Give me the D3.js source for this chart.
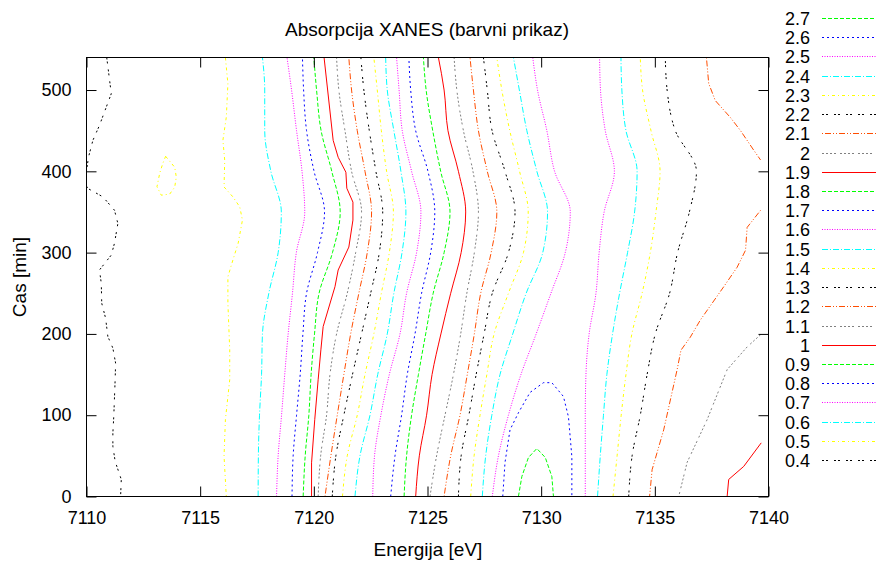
<!DOCTYPE html>
<html>
<head>
<meta charset="utf-8">
<script src="https://cdn.jsdelivr.net/npm/d3@7"></script>
<style>
  body { margin: 0; background: #fff; }
  svg text { font-family: "Liberation Sans", Arial, sans-serif; fill: #000; }
</style>
</head>
<body>
<div id="chart"></div>
<script>
// time rows (min) at which the vertical contours were read
const T = [0, 50, 100, 150, 200, 250, 300, 350, 400, 450, 500, 540];

// energy (eV) of each contour at the rows of T
const e06 = [7117.55, 7117.56, 7117.61, 7117.70, 7117.74, 7118.02, 7118.43, 7118.57, 7118.11, 7117.84, 7117.84, 7117.74];
const e07 = [7118.36, 7118.43, 7118.58, 7118.72, 7118.87, 7119.06, 7119.23, 7119.60, 7119.48, 7119.24, 7119.02, 7118.82];
const e08 = [7119.04, 7119.09, 7119.24, 7119.40, 7119.52, 7119.68, 7120.16, 7120.47, 7120.01, 7119.68, 7119.55, 7119.50];
const e09 = [7119.53, 7119.62, 7119.78, 7119.88, 7120.03, 7120.23, 7120.82, 7121.16, 7120.79, 7120.32, 7120.12, 7120.00];
const e11 = [7120.19, 7120.30, 7120.56, 7120.71, 7121.00, 7121.47, 7121.84, 7122.10, 7121.66, 7121.37, 7121.10, 7121.00];
const e12 = [7120.49, 7120.75, 7121.03, 7121.32, 7121.62, 7121.98, 7122.35, 7122.54, 7122.25, 7121.91, 7121.66, 7121.54];
const e13 = [7120.81, 7120.97, 7121.32, 7121.70, 7122.10, 7122.50, 7122.88, 7123.03, 7122.73, 7122.44, 7122.20, 7122.07];
const e14 = [7121.26, 7121.47, 7121.91, 7122.25, 7122.64, 7122.97, 7123.32, 7123.50, 7123.20, 7122.97, 7122.79, 7122.64];
const e15 = [7121.81, 7122.03, 7122.47, 7122.81, 7123.23, 7123.52, 7123.88, 7124.05, 7123.83, 7123.52, 7123.23, 7123.16];
const e16 = [7122.59, 7122.67, 7122.95, 7123.32, 7123.79, 7124.08, 7124.52, 7124.71, 7124.30, 7123.89, 7123.75, 7123.64];
const e17 = [7123.38, 7123.57, 7123.86, 7124.11, 7124.45, 7124.74, 7125.14, 7125.32, 7125.02, 7124.48, 7124.26, 7124.18];
const e18 = [7123.97, 7124.08, 7124.30, 7124.60, 7124.92, 7125.25, 7125.73, 7125.99, 7125.58, 7125.23, 7124.94, 7124.82];
const e19 = [7124.48, 7124.64, 7124.96, 7125.20, 7125.59, 7126.02, 7126.48, 7126.68, 7126.36, 7125.90, 7125.73, 7125.48];
const e20 = [7125.11, 7125.40, 7125.77, 7126.14, 7126.46, 7126.73, 7127.06, 7127.24, 7127.00, 7126.58, 7126.29, 7126.17];
const e21 = [7125.73, 7126.02, 7126.43, 7126.75, 7127.06, 7127.34, 7127.80, 7128.05, 7127.63, 7127.24, 7127.02, 7126.87];
const e22 = [7126.36, 7126.48, 7126.82, 7127.14, 7127.49, 7127.85, 7128.56, 7128.85, 7128.41, 7127.84, 7127.63, 7127.46];
const e23 = [7126.90, 7127.05, 7127.31, 7127.61, 7127.93, 7128.56, 7129.22, 7129.43, 7129.05, 7128.62, 7128.27, 7128.05];
const e24 = [7127.41, 7127.56, 7127.83, 7128.19, 7128.75, 7129.34, 7130.07, 7130.28, 7129.81, 7129.37, 7129.04, 7128.78];
const e25 = [7127.85, 7128.12, 7128.56, 7129.11, 7129.78, 7130.43, 7131.06, 7131.28, 7130.59, 7130.25, 7129.84, 7129.63];
// falling edge, right of the peak
const e25r = [7131.94, 7131.94, 7131.94, 7131.97, 7132.11, 7132.41, 7132.55, 7132.77, 7133.22, 7132.82, 7132.61, 7132.57];
const e24r = [7132.48, 7132.60, 7132.74, 7132.89, 7133.14, 7133.45, 7133.80, 7134.11, 7134.22, 7133.73, 7133.55, 7133.51];
const e23r = [7133.16, 7133.34, 7133.52, 7133.73, 7133.99, 7134.44, 7134.80, 7135.05, 7135.23, 7134.83, 7134.46, 7134.36];
const e22r = [7133.85, 7134.00, 7134.36, 7134.66, 7135.02, 7135.65, 7136.00, 7136.52, 7136.83, 7135.90, 7135.54, 7135.46];

// irregular pieces as [energy, time]
const c04a = [[7110.89, 540], [7111.09, 495.5], [7110.87, 479], [7110.57, 456.5], [7110.28, 438], [7110.09, 417.6], [7110.0, 401]];
const c04b = [[7110.0, 381.7], [7110.06, 378.9], [7110.72, 368.6], [7111.23, 352.2], [7111.38, 335.9], [7111.23, 311.4],
  [7111.09, 297], [7110.57, 278.6], [7110.65, 262.3], [7110.67, 237.7], [7110.84, 219.3], [7110.94, 196.7],
  [7111.16, 182.5], [7111.28, 164.1], [7111.26, 143.6], [7111.20, 98.6], [7111.16, 78.2], [7111.16, 61.7],
  [7111.26, 43.3], [7111.53, 20.9], [7111.50, 0]];
const c05 = [[7116.11, 540], [7116.22, 507.7], [7116.15, 466.7], [7116.00, 438.1], [7116.08, 413.6], [7116.05, 380.8],
  [7116.44, 368.6], [7116.74, 356.3], [7116.86, 340], [7116.67, 311.4], [7116.44, 290.9], [7116.22, 270.4],
  [7116.22, 237.7], [7116.30, 180.4], [7116.30, 143.6], [7116.11, 94.5], [7116.05, 49.5], [7116.15, 0]];
const c05loop = [[7113.48, 418.5], [7113.88, 405], [7113.95, 393], [7113.88, 380.5], [7113.66, 372], [7113.29, 370.6],
  [7113.10, 381], [7113.22, 397.6], [7113.36, 410], [7113.48, 418.5]];
const c10 = [[7120.45, 540], [7120.85, 438.1], [7121.07, 417.3], [7121.41, 398.9], [7121.45, 379.2], [7121.72, 362.1],
  [7121.72, 340], [7121.54, 306.8], [7121.07, 278.6], [7120.93, 258.1], [7120.41, 209], [7120.31, 180.4],
  [7120.19, 143.6], [7120.04, 94.5], [7119.90, 41.4], [7119.90, 0]];
const c26 = [[7128.31, 0], [7128.41, 42], [7128.63, 82], [7129.00, 103], [7129.51, 128], [7130.10, 140], [7130.47, 140],
  [7130.98, 123], [7131.20, 98], [7131.35, 49], [7131.35, 0]];
const c27 = [[7129.00, 0], [7129.15, 24.5], [7129.44, 48], [7129.81, 59], [7130.18, 48], [7130.47, 24.5], [7130.54, 0]];
const c21top = [[7137.27, 540], [7137.37, 508], [7137.66, 487], [7138.33, 466], [7138.77, 450], [7139.35, 426], [7139.65, 414]];
const c21low = [[7139.65, 352], [7139.06, 331], [7138.99, 303], [7138.62, 282], [7138.03, 258], [7137.00, 217],
  [7136.56, 196], [7136.15, 180], [7135.98, 156], [7135.39, 82], [7134.88, 33], [7134.77, 0]];
const c20r = [[7139.65, 199], [7139.06, 184], [7138.18, 156], [7137.30, 94.5], [7136.42, 42], [7136.05, 0]];
const c19r = [[7138.18, 0], [7138.25, 21], [7138.91, 37], [7139.68, 66]];

const legendLevels = [2.7, 2.6, 2.5, 2.4, 2.3, 2.2, 2.1, 2, 1.9, 1.8, 1.7, 1.6, 1.5, 1.4, 1.3, 1.2, 1.1, 1, 0.9, 0.8, 0.7, 0.6, 0.5, 0.4];
const xTicks = [7110, 7115, 7120, 7125, 7130, 7135, 7140];
const yTicks = [0, 100, 200, 300, 400, 500];

// gnuplot style cycle: colour + dash
const styles = {
  1: ["#ff0000", null],
  0: ["#00ff00", "4,2"],
  8: ["#0000ff", "2,3"],
  7: ["#ff00ff", "1,1.5"],
  6: ["#00ffff", "6,2,1,2"],
  5: ["#ffff00", "3,3,1,3"],
  4: ["#000000", "2,2,2,6"],
  3: ["#ff4d00", "1,2,6,2,1,2"],
  2: ["#808080", "2,2,2,2,2,2,2,4"]
};
const styleOf = lv => styles[Math.round(lv * 10) % 9];

const rows = (e) => e.map((v, i) => [v, T[i]]);
// smooth: read on coarse rows; free: traced vertex by vertex
const contours = [
  { level: 0.4, pts: c04a }, { level: 0.4, pts: c04b },
  { level: 0.5, pts: c05 }, { level: 0.5, pts: c05loop },
  { level: 0.6, pts: rows(e06), smooth: true }, { level: 0.7, pts: rows(e07), smooth: true },
  { level: 0.8, pts: rows(e08), smooth: true }, { level: 0.9, pts: rows(e09), smooth: true },
  { level: 1.0, pts: c10 }, { level: 1.1, pts: rows(e11), smooth: true },
  { level: 1.2, pts: rows(e12), smooth: true }, { level: 1.3, pts: rows(e13), smooth: true },
  { level: 1.4, pts: rows(e14), smooth: true }, { level: 1.5, pts: rows(e15), smooth: true },
  { level: 1.6, pts: rows(e16), smooth: true }, { level: 1.7, pts: rows(e17), smooth: true },
  { level: 1.8, pts: rows(e18), smooth: true }, { level: 1.9, pts: rows(e19), smooth: true },
  { level: 2.0, pts: rows(e20), smooth: true }, { level: 2.1, pts: rows(e21), smooth: true },
  { level: 2.2, pts: rows(e22), smooth: true }, { level: 2.3, pts: rows(e23), smooth: true },
  { level: 2.4, pts: rows(e24), smooth: true }, { level: 2.5, pts: rows(e25), smooth: true },
  { level: 2.5, pts: rows(e25r), smooth: true }, { level: 2.4, pts: rows(e24r), smooth: true },
  { level: 2.3, pts: rows(e23r), smooth: true }, { level: 2.2, pts: rows(e22r), smooth: true },
  { level: 2.1, pts: c21top }, { level: 2.1, pts: c21low },
  { level: 2.0, pts: c20r }, { level: 1.9, pts: c19r },
  { level: 2.6, pts: c26 }, { level: 2.7, pts: c27 }
];

const W = 876, H = 563;
const svg = d3.select("#chart").append("svg")
  .attr("width", W).attr("height", H);

const x = d3.scaleLinear().domain([7110, 7140]).range([86.5, 768.5]);
const y = d3.scaleLinear().domain([0, 540]).range([496.5, 57.5]);

svg.append("clipPath").attr("id", "plot")
  .append("rect")
  .attr("x", x(7110)).attr("y", y(540))
  .attr("width", x(7140) - x(7110)).attr("height", y(0) - y(540));

// Contours
const lineFree = d3.line().x(d => x(d[0])).y(d => y(d[1]));
const lineSmooth = d3.line().x(d => x(d[0])).y(d => y(d[1])).curve(d3.curveMonotoneY);
svg.append("g").attr("clip-path", "url(#plot)")
  .selectAll("path")
  .data(contours)
  .enter().append("path")
  .attr("d", d => (d.smooth ? lineSmooth : lineFree)(d.pts))
  .attr("fill", "none")
  .attr("stroke", d => styleOf(d.level)[0])
  .attr("stroke-dasharray", d => styleOf(d.level)[1])
  .attr("stroke-width", 1);

// Axes, ticks pointing inward on all four sides
const fs = "18px";
const styleAxis = ax => {
  ax.select(".domain").remove();
  ax.selectAll("line").attr("stroke", "#000");
  ax.selectAll("text").attr("font-size", fs).attr("font-family", "Liberation Sans, Arial, sans-serif");
};
svg.append("g").attr("transform", `translate(0,${y(0)})`)
  .call(d3.axisBottom(x).tickValues(xTicks).tickSize(-10).tickPadding(15).tickFormat(d3.format("d")))
  .call(styleAxis);
svg.append("g").attr("transform", `translate(0,${y(540)})`)
  .call(d3.axisTop(x).tickValues(xTicks).tickSize(-10).tickFormat(""))
  .call(styleAxis);
svg.append("g").attr("transform", `translate(${x(7110)},0)`)
  .call(d3.axisLeft(y).tickValues(yTicks).tickSize(-10).tickPadding(15))
  .call(styleAxis);
svg.append("g").attr("transform", `translate(${x(7140)},0)`)
  .call(d3.axisRight(y).tickValues(yTicks).tickSize(-10).tickFormat(""))
  .call(styleAxis);

svg.append("rect")
  .attr("x", x(7110)).attr("y", y(540))
  .attr("width", x(7140) - x(7110)).attr("height", y(0) - y(540))
  .attr("fill", "none").attr("stroke", "#000").attr("stroke-width", 1);

// Titles
svg.append("text").attr("x", 427).attr("y", 36)
  .attr("text-anchor", "middle").attr("font-size", "19px")
  .text("Absorpcija XANES (barvni prikaz)");
svg.append("text").attr("x", 428).attr("y", 556)
  .attr("text-anchor", "middle").attr("font-size", "19px")
  .text("Energija [eV]");
svg.append("text")
  .attr("transform", `translate(26,${(y(0) + y(540)) / 2}) rotate(-90)`)
  .attr("text-anchor", "middle").attr("font-size", "19px")
  .text("Cas [min]");

// Legend
const leg = svg.append("g");
const rowY = i => Math.round(18 + i * 19.22) + 0.5;
leg.selectAll("text")
  .data(legendLevels)
  .enter().append("text")
  .attr("x", 810).attr("y", (d, i) => rowY(i))
  .attr("dy", "0.35em")
  .attr("text-anchor", "end").attr("font-size", fs)
  .text(d => d3.format("~g")(d));
leg.selectAll("line")
  .data(legendLevels)
  .enter().append("line")
  .attr("x1", 822).attr("x2", 880)
  .attr("y1", (d, i) => rowY(i)).attr("y2", (d, i) => rowY(i))
  .attr("stroke", d => styleOf(d)[0])
  .attr("stroke-dasharray", d => styleOf(d)[1])
  .attr("stroke-width", 1);
</script>
</body>
</html>
